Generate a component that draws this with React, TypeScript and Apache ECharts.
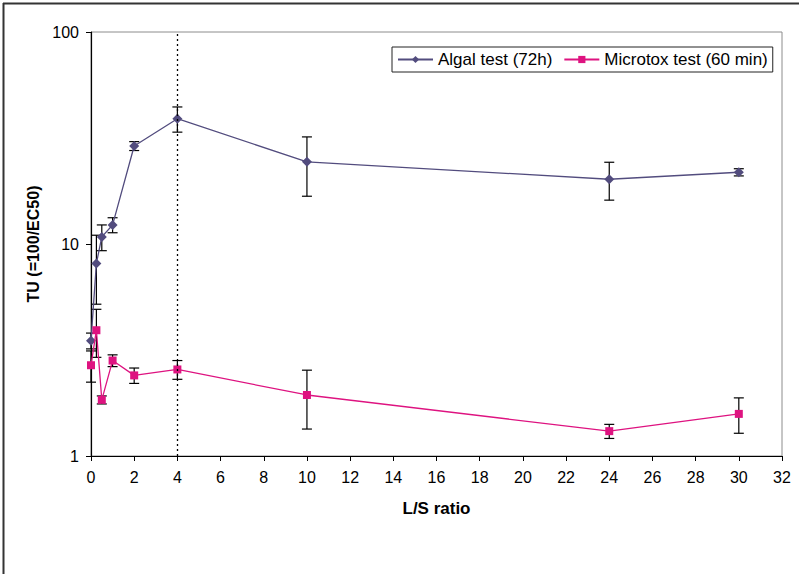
import React, { useEffect, useRef } from "react";
import * as echarts from "echarts";

const xVals = [0, 0.25, 0.5, 1, 2, 4, 10, 24, 30];
const algal = [3.5, 8.1, 10.8, 12.3, 29, 39, 24.4, 20.2, 21.8];
const algalErr = [0.3, 2.9, 1.5, 1.0, 1.4, 5.3, 7.6, 4.1, 0.85];
const microtox = [2.68, 3.92, 1.84, 2.82, 2.4, 2.56, 1.94, 1.31, 1.58];
const microtoxErr = [0.45, 1.0, 0.08, 0.18, 0.2, 0.26, 0.6, 0.1, 0.3];
const seriesNames = ["Algal test (72h)", "Microtox test (60 min)"];
const xTicks = { min: 0, max: 32, interval: 2 };
const yTicks = { min: 1, max: 100 };
const verticalMarkX = 4;

const ALGAL_COLOR = "#524C7E";
const MICRO_COLOR = "#DE1380";
const FONT = "'Liberation Sans', Arial, sans-serif";

function errData(vals: number[], errs: number[]) {
  return xVals.map((x, i) => [x, vals[i] - errs[i], vals[i] + errs[i]]);
}

function errRender(params: any, api: any) {
  const x = api.value(0);
  const lo = api.value(1);
  const hi = api.value(2);
  const pLo = api.coord([x, lo]);
  const pHi = api.coord([x, hi]);
  const w = 5;
  const style = { stroke: "#000", lineWidth: 1.2 };
  return {
    type: "group",
    children: [
      { type: "line", shape: { x1: pLo[0], y1: pLo[1], x2: pHi[0], y2: pHi[1] }, style },
      { type: "line", shape: { x1: pLo[0] - w, y1: pLo[1], x2: pLo[0] + w, y2: pLo[1] }, style },
      { type: "line", shape: { x1: pHi[0] - w, y1: pHi[1], x2: pHi[0] + w, y2: pHi[1] }, style },
    ],
  };
}

export default function App() {
  const ref = useRef<HTMLDivElement>(null);
  useEffect(() => {
    if (!ref.current) return;
    const chart = echarts.init(ref.current, null, { renderer: "svg" });
    chart.setOption({
      animation: false,
      backgroundColor: "#fff",
      textStyle: { fontFamily: FONT },
      grid: {
        left: 91,
        right: 17,
        top: 32,
        bottom: 118,
        show: true,
        borderColor: "#8c8c8c",
        borderWidth: 1,
      },
      legend: {
        data: seriesNames,
        left: 392,
        top: 47,
        orient: "horizontal",
        padding: [4, 5, 4, 5],
        itemGap: 11,
        itemWidth: 35,
        itemHeight: 9,
        borderColor: "#222",
        borderWidth: 1,
        backgroundColor: "#fff",
        textStyle: { fontSize: 17, color: "#000", fontFamily: FONT },
      },
      xAxis: {
        type: "value",
        min: xTicks.min,
        max: xTicks.max,
        interval: xTicks.interval,
        name: "L/S ratio",
        nameLocation: "middle",
        nameGap: 44,
        nameTextStyle: { fontSize: 17, fontWeight: "bold", color: "#000", fontFamily: FONT },
        axisLine: { onZero: false, lineStyle: { color: "#000", width: 1.2 } },
        axisTick: { inside: false, length: 5, lineStyle: { color: "#000" } },
        axisLabel: { fontSize: 16, color: "#000", margin: 13, fontFamily: FONT },
        splitLine: { show: false },
      },
      yAxis: {
        type: "log",
        logBase: 10,
        min: yTicks.min,
        max: yTicks.max,
        name: "TU (=100/EC50)",
        nameLocation: "middle",
        nameGap: 47,
        nameTextStyle: { fontSize: 16, fontWeight: "bold", color: "#000", fontFamily: FONT },
        axisLine: { show: true, lineStyle: { color: "#000", width: 1.2 } },
        axisTick: { show: true, inside: false, length: 5, lineStyle: { color: "#000" } },
        minorTick: { show: false },
        axisLabel: { fontSize: 16, color: "#000", margin: 12, fontFamily: FONT },
        splitLine: { show: false },
      },
      graphic: [
        { type: "line", shape: { x1: 3.5, y1: 3, x2: 3.5, y2: 574 }, style: { stroke: "#333", lineWidth: 2 } },
        { type: "line", shape: { x1: 3, y1: 3.5, x2: 799, y2: 3.5 }, style: { stroke: "#333", lineWidth: 2 } },
      ],
      series: [
        {
          type: "custom",
          name: "algalErr",
          renderItem: errRender,
          data: errData(algal, algalErr),
          encode: { x: 0, y: [1, 2] },
          z: 1,
          silent: true,
        },
        {
          type: "custom",
          name: "microErr",
          renderItem: errRender,
          data: errData(microtox, microtoxErr),
          encode: { x: 0, y: [1, 2] },
          z: 1,
          silent: true,
        },
        {
          type: "line",
          name: seriesNames[0],
          data: xVals.map((x, i) => [x, algal[i]]),
          symbol: "diamond",
          symbolSize: 10,
          color: ALGAL_COLOR,
          lineStyle: { color: ALGAL_COLOR, width: 1.3 },
          itemStyle: { color: ALGAL_COLOR },
          z: 3,
          markLine: {
            silent: true,
            symbol: "none",
            label: { show: false },
            lineStyle: { color: "#000", type: [2, 3], width: 1.3 },
            data: [{ xAxis: verticalMarkX }],
          },
        },
        {
          type: "line",
          name: seriesNames[1],
          data: xVals.map((x, i) => [x, microtox[i]]),
          symbol: "rect",
          symbolSize: 8,
          color: MICRO_COLOR,
          lineStyle: { color: MICRO_COLOR, width: 1.3 },
          itemStyle: { color: MICRO_COLOR },
          z: 4,
        },
      ],
    });
    return () => chart.dispose();
  }, []);
  return (
    <div
      ref={ref}
      style={{ position: "fixed", left: 0, top: 0, width: 799, height: 574, background: "#fff" }}
    />
  );
}
